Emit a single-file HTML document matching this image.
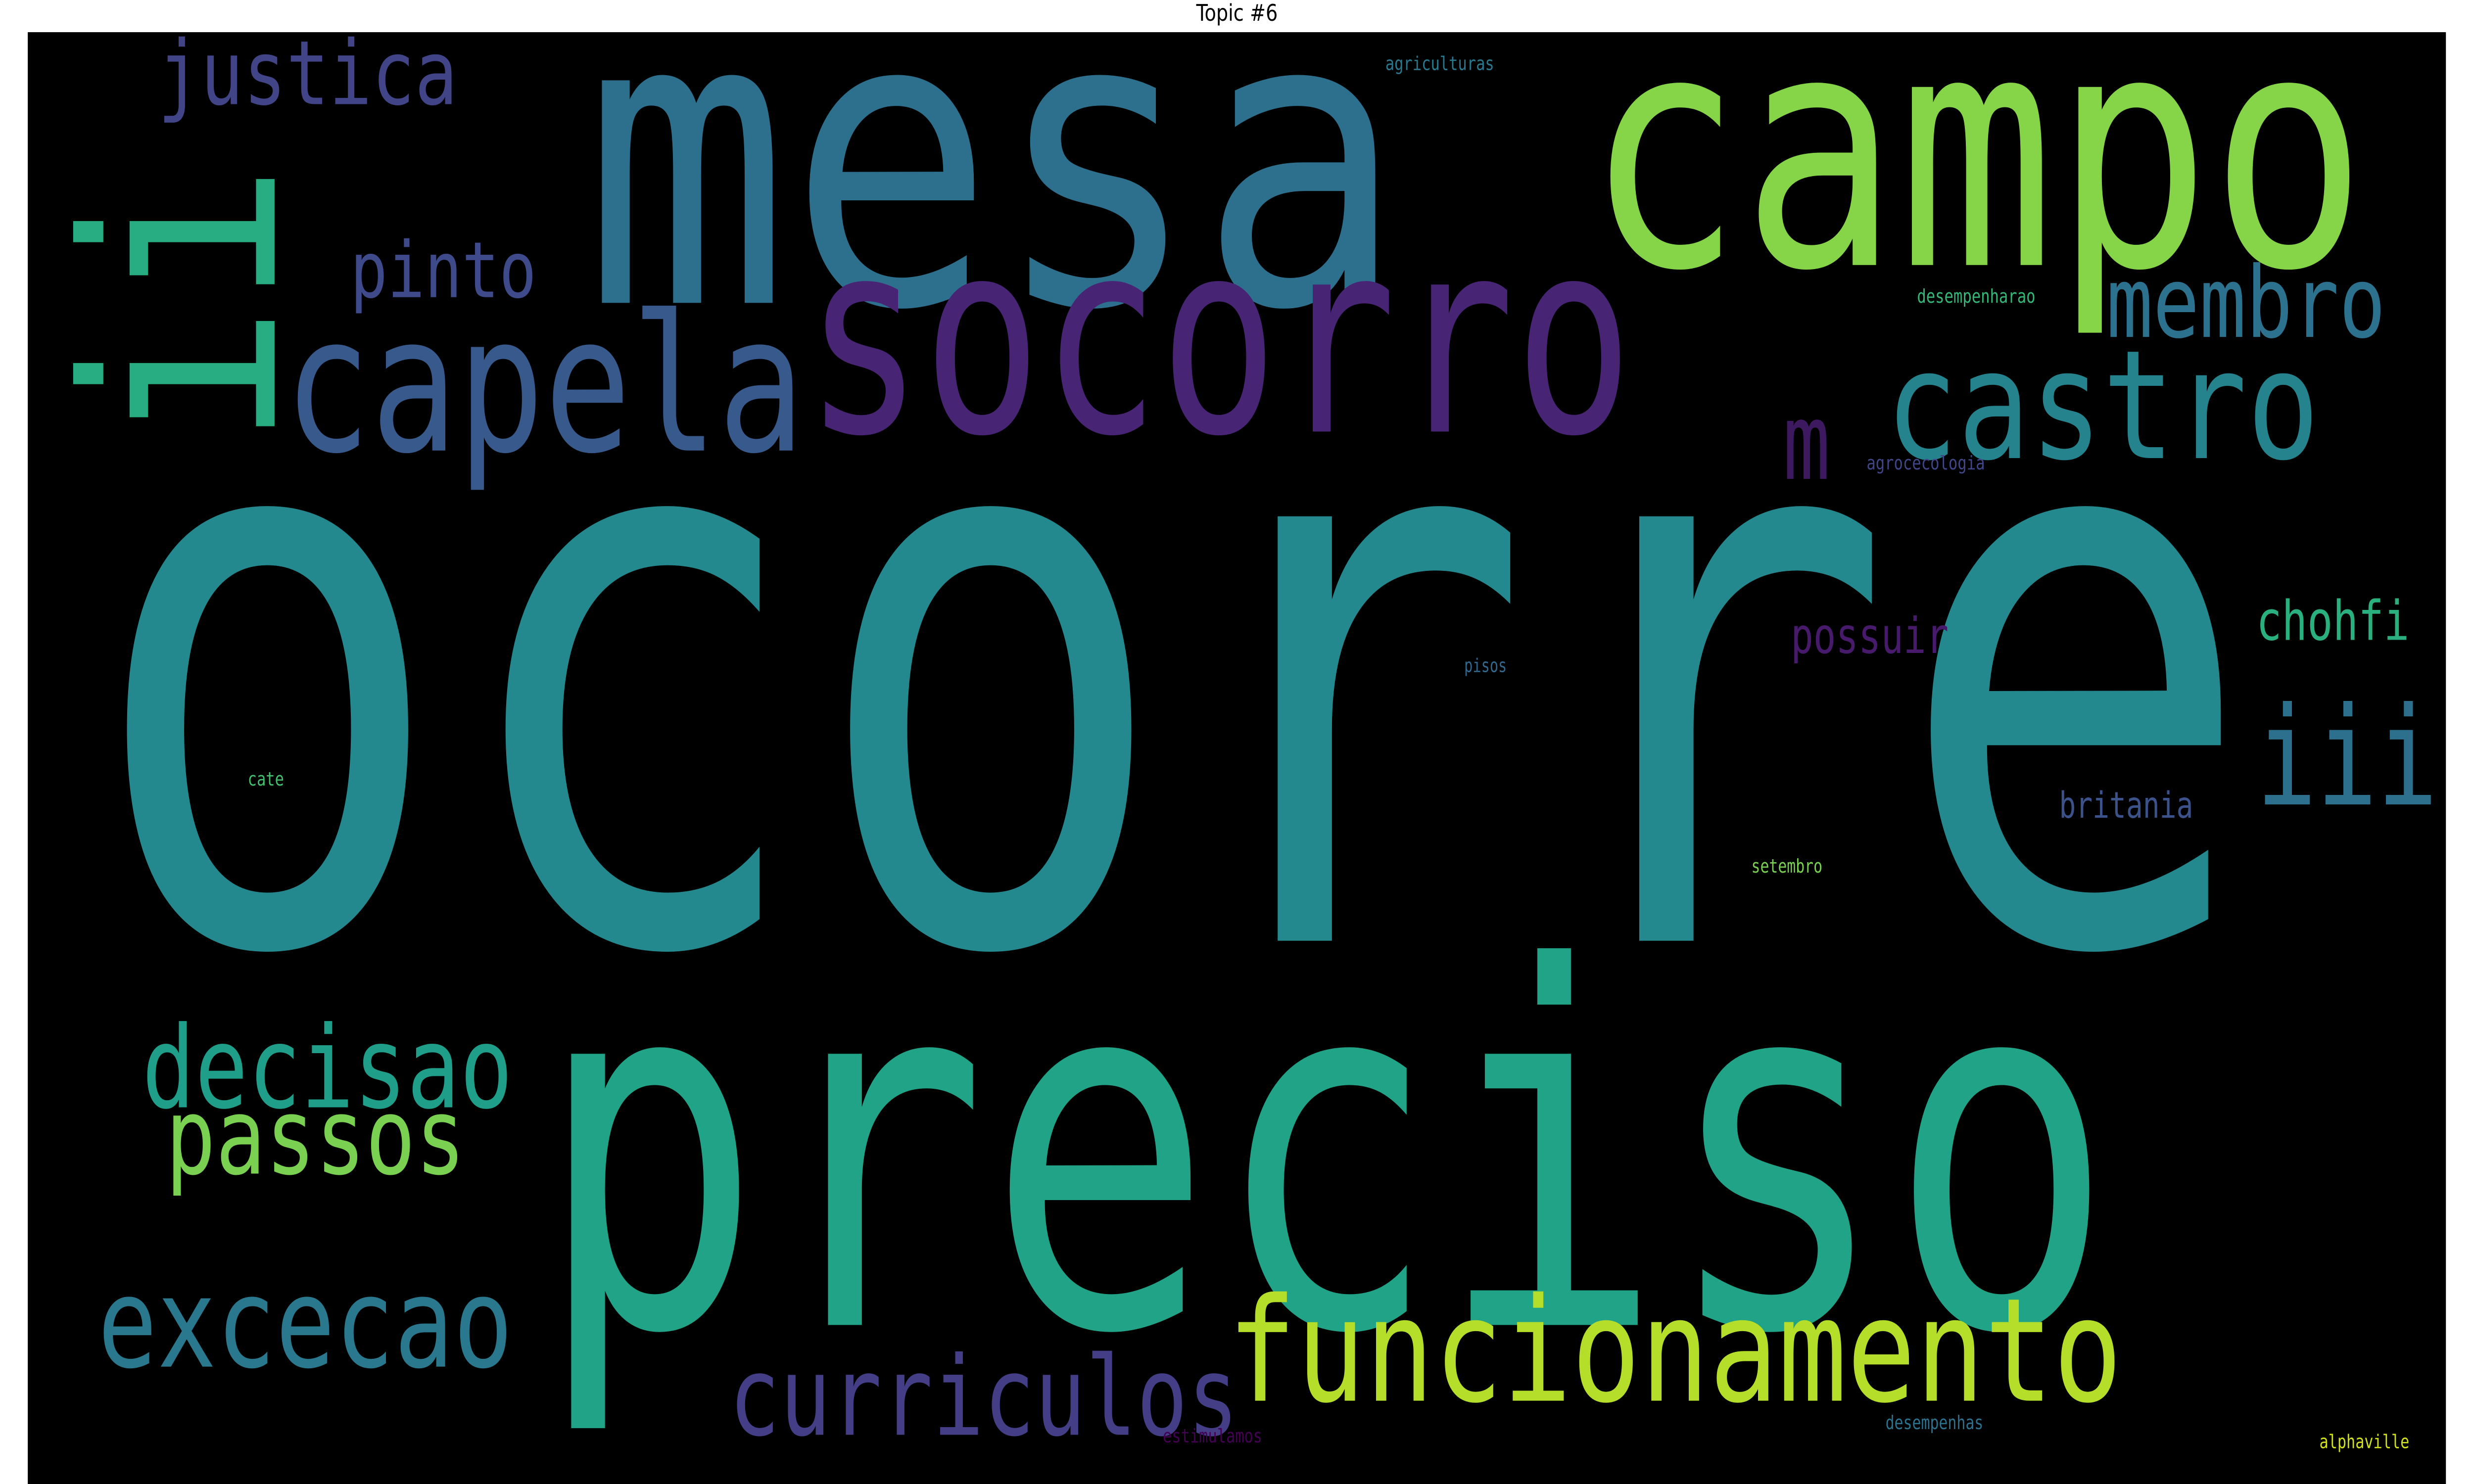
<!DOCTYPE html>
<html><head><meta charset="utf-8"><style>
html,body{margin:0;padding:0;background:#fff;width:100vw;height:100vh;overflow:hidden}
svg{display:block;position:fixed;left:0;top:0;width:100vw;height:100vh}
svg text{font-family:"DejaVu Sans Mono","Liberation Mono",monospace}
</style></head><body>
<svg xmlns="http://www.w3.org/2000/svg" viewBox="0 0 1568 784" preserveAspectRatio="none">
<rect x="0" y="0" width="1568" height="784" fill="#fff"/>
<text x="784" y="11" text-anchor="middle" font-size="12" style="font-family:'DejaVu Sans','Liberation Sans',sans-serif" fill="#000">Topic #6</text>
<rect x="17.6" y="17" width="1532.6" height="767" fill="#000"/>
<g id="cloud"></g>
</svg>
<script>
const words = ["ocorre","preciso","mesa","campo","socorro","capela","justica","pinto","membro","castro","m","chohfi","possuir","iii","britania","decisao","passos","excecao","curriculos","funcionamento","agriculturas","desempenharao","agrocecologia","pisos","cate","setembro","desempenhas","alphaville","estimulamos"];
const colors = ["#23898e","#20a386","#2d708e","#86d549","#482475","#38598c","#414487","#3e4a89","#2c728e","#25838e","#3d1a60","#2ab07f","#481a6c","#2d708e","#3b528b","#1f9e89","#7ad151","#2a788e","#433e85","#b5de2b","#2a788e","#35b779","#404688","#31688e","#44bf70","#7ad151","#2c728e","#d0e11c","#440154"];
const fontSizes = [410,262,215,172,142,100,47,41,52,80,56,29,26,72,19,60,56,66,58,76,10,10,10,10,10,10,10,10,10];
const leftX = [55,340,370,1005,510,180,100,222,1335,1195,1130,1430,1135,1430,1305,90,105,62,462,778,878,1215,1183,928,157,1110,1195,1470,737];
const baseY = [497,700,160,140,228,238,55,157,178,242,253,338,345,425,432,585,620,722,758,740,37,160,248,355,415,461,755,765,762];
const spanW = [1375,1000,520,495,525,330,190,118,177,275,30,97,100,115,85,235,190,263,323,567,69,75,75,27,23,45,62,57,63];
const g = document.getElementById('cloud');
const NS = "http://www.w3.org/2000/svg";
for (let i = 0; i < words.length; i++) {
  const t = document.createElementNS(NS, 'text');
  t.setAttribute('x', leftX[i]);
  t.setAttribute('y', baseY[i]);
  t.setAttribute('font-size', fontSizes[i]);
  t.setAttribute('fill', colors[i]);
  t.setAttribute('textLength', spanW[i]);
  t.setAttribute('lengthAdjust', 'spacingAndGlyphs');
  t.textContent = words[i];
  
  
  g.appendChild(t);
}
const v = document.createElementNS(NS, 'text');
v.setAttribute('transform', 'translate(174,236) rotate(-90)');
v.setAttribute('font-size', '168');
v.setAttribute('fill', '#27ad81');
v.setAttribute('textLength', '150');
v.setAttribute('lengthAdjust', 'spacingAndGlyphs');
v.textContent = 'ii';


g.appendChild(v);
</script>
</body></html>
